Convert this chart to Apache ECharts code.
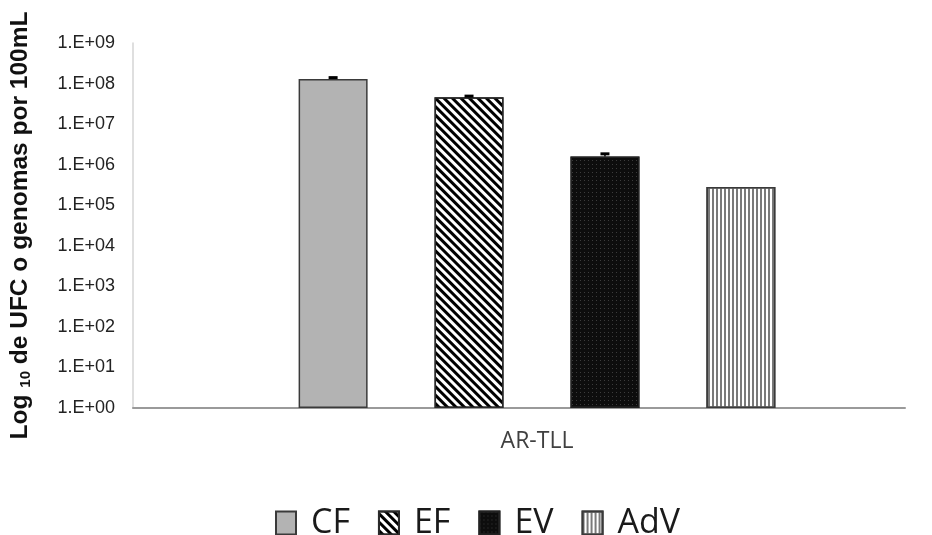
<!DOCTYPE html>
<html><head><meta charset="utf-8">
<script src="https://cdn.jsdelivr.net/npm/echarts@6/dist/echarts.min.js"></script>
<style>html,body{margin:0;padding:0;background:#fff}#c{width:932px;height:535px}</style>
</head><body><div id="c"></div>
<script>
const categories = ['AR-TLL'];
const seriesNames = ['CF', 'EF', 'EV', 'AdV'];
const values = [1.3e8, 4.6e7, 1.6e6, 2.8e5];
const errorUpper = [1.4e8, 4.9e7, 1.85e6, 2.8e5];
const yTickExponents = [0, 1, 2, 3, 4, 5, 6, 7, 8, 9];

const BAR_W = 69, BAR_GAP = '97%';
const styles = [
  { color: '#b3b3b3', borderColor: '#3a3a3a', borderWidth: 1.5 },
  { color: '#ffffff', borderColor: '#2a2a2a', borderWidth: 1.5,
    decal: { symbol: 'rect', symbolSize: 1, dashArrayX: [1, 0], dashArrayY: [2.4, 2.6], rotation: Math.PI / 4, color: '#000' } },
  { color: '#0d0d0d', borderColor: '#222', borderWidth: 1.5,
    decal: { symbol: 'rect', symbolSize: 1, dashArrayX: [1, 2.2], dashArrayY: [1, 2.2], color: '#3c3c3c' } },
  { color: '#ffffff', borderColor: '#3a3a3a', borderWidth: 1.5,
    decal: { symbol: 'rect', symbolSize: 1, dashArrayX: [1.6, 1.8], dashArrayY: [1, 0], color: '#7a7a7a' } }
];

const chart = echarts.init(document.getElementById('c'), null, { renderer: 'canvas' });
const fmt = v => { const e = Math.round(Math.log10(v)); return '1.E+' + (e < 10 ? '0' : '') + e; };

const series = seriesNames.map((n, i) => ({
  name: n, type: 'bar', xAxisIndex: 1, yAxisIndex: 1,
  barWidth: BAR_W, barGap: BAR_GAP,
  data: [values[i]],
  itemStyle: styles[i],
  emphasis: { disabled: true },
  z: 2
}));

series.push({
  type: 'custom', xAxisIndex: 1, yAxisIndex: 1, z: 5, silent: true,
  data: values.map((v, i) => [0, v, errorUpper[i], i]).filter(d => d[2] > d[1]),
  renderItem: function (params, api) {
    const idx = api.value(3);
    let off;
    const lay = api.barLayout ? api.barLayout({ count: seriesNames.length, barWidth: BAR_W, barGap: BAR_GAP }) : null;
    if (lay && lay[idx]) off = lay[idx].offsetCenter;
    else { const g = BAR_W * 0.97; off = -((seriesNames.length * BAR_W + (seriesNames.length - 1) * g) / 2) + idx * (BAR_W + g) + BAR_W / 2; }
    const base = api.coord([api.value(0), api.value(1)]);
    const top = api.coord([api.value(0), api.value(2)]);
    const x = base[0] + off;
    return { type: 'group', children: [
      { type: 'line', shape: { x1: x, y1: base[1], x2: x, y2: top[1] }, style: { stroke: '#000', lineWidth: 1.5 } },
      { type: 'line', shape: { x1: x - 4.5, y1: top[1], x2: x + 4.5, y2: top[1] }, style: { stroke: '#000', lineWidth: 3 } }
    ]};
  }
});

chart.setOption({
  animation: false,
  backgroundColor: '#fff',
  grid: [
    { left: 133, right: 27, top: 43, bottom: 127 },
    { left: 169, right: 27, top: 43, bottom: 127 }
  ],
  legend: {
    data: seriesNames.map(n => ({ name: n, icon: 'rect' })),
    left: 275, top: 506, padding: 0,
    itemWidth: 20, itemHeight: 23, itemGap: 28,
    textStyle: { fontFamily: 'Open Sans', fontSize: 34, color: '#1a1a1a', padding: [0, 0, 0, 10] },
    selectedMode: false
  },
  xAxis: [
    { type: 'category', gridIndex: 0, data: [''],
      axisLine: { show: true, lineStyle: { color: '#9a9a9a', width: 2 } },
      axisTick: { show: false }, axisLabel: { show: false } },
    { type: 'category', gridIndex: 1, data: categories,
      axisLine: { show: false }, axisTick: { show: false },
      axisLabel: { fontFamily: 'Open Sans', fontSize: 23, color: '#404040', margin: 22 } }
  ],
  yAxis: [
    { type: 'log', gridIndex: 0, logBase: 10, min: Math.pow(10, yTickExponents[0]), max: Math.pow(10, yTickExponents[yTickExponents.length - 1]), interval: 1,
      axisLine: { show: true, lineStyle: { color: '#d4d4d4', width: 1.5 } },
      axisTick: { show: false }, splitLine: { show: false },
      axisLabel: { formatter: fmt, fontFamily: 'Liberation Sans', fontSize: 18, color: '#222', margin: 18 },
      name: '{a|Log }{s|10}{a| de UFC o genomas por 100mL}',
      nameLocation: 'middle', nameRotate: 90, nameGap: 100,
      nameTextStyle: { rich: {
        a: { fontFamily: 'Liberation Sans', fontWeight: 'bold', fontSize: 24.5, color: '#111', verticalAlign: 'bottom', lineHeight: 29 },
        s: { fontFamily: 'Liberation Sans', fontWeight: 'bold', fontSize: 15, color: '#111', verticalAlign: 'bottom', lineHeight: 25 }
      } } },
    { type: 'log', gridIndex: 1, logBase: 10, min: Math.pow(10, yTickExponents[0]), max: Math.pow(10, yTickExponents[yTickExponents.length - 1]), interval: 1,
      show: false, splitLine: { show: false } }
  ],
  series: series
});
</script></body></html>
